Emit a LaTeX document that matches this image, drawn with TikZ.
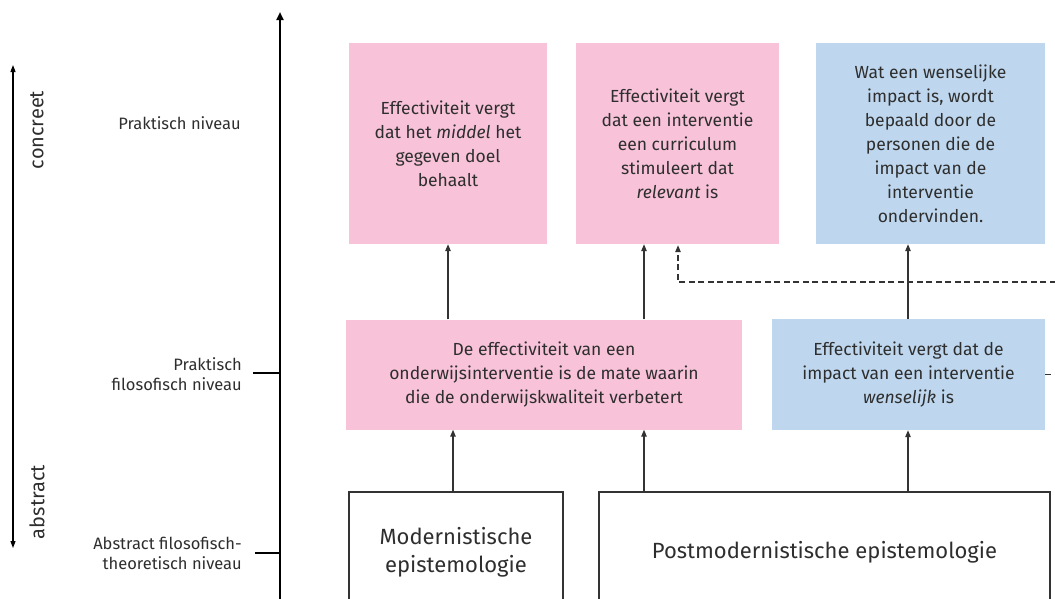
\documentclass[tikz,border=0pt]{standalone}
\usepackage{fontspec}
\setmainfont{Fira Sans}
\usetikzlibrary{arrows.meta}
\definecolor{roze}{HTML}{F8C3D9}
\definecolor{lichtblauw}{HTML}{BED7EE}
\definecolor{tekst}{HTML}{2E2E2E}
\definecolor{lijn}{HTML}{333333}
\begin{document}
\begin{tikzpicture}[x=1pt,y=-1pt,
  every node/.style={text=tekst, inner sep=0pt},
  vak/.style={rectangle, align=center, font=\fontsize{17.5}{24}\selectfont},
  rozevak/.style={vak, fill=roze},
  blauwvak/.style={vak, fill=lichtblauw},
  basisvak/.style={rectangle, draw=lijn, line width=1.3pt, align=center,
    font=\fontsize{22}{28}\selectfont},
  niveau/.style={align=right, anchor=east, font=\fontsize{16.5}{20}\selectfont},
  pijl/.style={draw=lijn, line width=1.2pt, -{Triangle[length=7pt,width=5.5pt]}},
  stippel/.style={pijl, dash pattern=on 6pt off 3.5pt},
]
\useasboundingbox (0,0) rectangle (1055,598);

% vertical scale concreet / abstract
\coordinate (sTop) at (13,65);
\coordinate (sBot) at (13,548);
\draw[line width=1.1pt, {Triangle[length=7pt,width=5pt]}-{Triangle[length=7pt,width=5pt]}] (sTop) -- (sBot);
\node[rotate=90, font=\fontsize{20}{20}\selectfont] (concreet) at (37,130) {concreet};
\node[rotate=90, font=\fontsize{20}{20}\selectfont] (abstract) at (37,502) {abstract};

% main axis with level ticks
\coordinate (aTop) at (280,12);
\coordinate (aBot) at (280,640);
\draw[line width=2.4pt, -{Triangle[length=8pt,width=7pt]}] (aBot) -- (aTop);
\coordinate (t1) at (253,373);
\coordinate (t2) at (255,553);
\draw[line width=1.2pt] (t1) -- (t1 -| aTop);
\draw[line width=1.2pt] (t2) -- (t2 -| aTop);

\node[niveau] (n1) at (241,123) {Praktisch niveau};
\node[niveau] (n2) at (242,374) {Praktisch\\filosofisch niveau};
\node[niveau] (n3) at (242,553) {Abstract filosofisch-\\theoretisch niveau};

% practical level
\node[rozevak, minimum width=198pt, minimum height=201pt] (p1) at (448,143.5)
  {Effectiviteit vergt\\dat het \textit{middel} het\\gegeven doel\\behaalt};
\node[rozevak, minimum width=203pt, minimum height=201pt] (p2) at (677.5,143.5)
  {Effectiviteit vergt\\dat een interventie\\een curriculum\\stimuleert dat\\\textit{relevant} is};
\node[blauwvak, minimum width=229pt, minimum height=201pt] (b1) at (930.5,143.5)
  {Wat een wenselijke\\impact is, wordt\\bepaald door de\\personen die de\\impact van de\\interventie\\ondervinden.};

% practical-philosophical level
\node[rozevak, minimum width=396pt, minimum height=110pt] (p3) at (544,374.5)
  {De effectiviteit van een\\onderwijsinterventie is de mate waarin\\die de onderwijskwaliteit verbetert};
\node[blauwvak, minimum width=273pt, minimum height=111pt] (b2) at (908.5,374.5)
  {Effectiviteit vergt dat de\\impact van een interventie\\\textit{wenselijk} is};

% abstract philosophical-theoretical level
\node[basisvak, minimum width=214pt, minimum height=120pt] (m) at (456,552)
  {Modernistische\\epistemologie};
\node[basisvak, minimum width=451pt, minimum height=120pt] (pm) at (824.5,552)
  {Postmodernistische epistemologie};

% connectors
\coordinate (x644) at (644,0);
\coordinate (x678) at (678,0);
\coordinate (x453) at (453,0);
\coordinate (x908) at (908,0);
\coordinate (dj) at (1085,282);

\draw[pijl] (p3.north -| p1.south) -- (p1.south);
\draw[pijl] (p3.north -| x644) -- (p2.south -| x644);
\draw[pijl] (b2.north -| x908) -- (b1.south -| x908);
\draw[stippel] (b2.east) -- (b2.east -| dj) -- (dj) -- (dj -| x678) -- ([yshift=-1pt]p2.south -| x678);

\draw[pijl] (m.north -| x453) -- (p3.south -| x453);
\draw[pijl] (pm.north -| x644) -- (p3.south -| x644);
\draw[pijl] (pm.north -| x908) -- (b2.south -| x908);
\end{tikzpicture}
\end{document}
